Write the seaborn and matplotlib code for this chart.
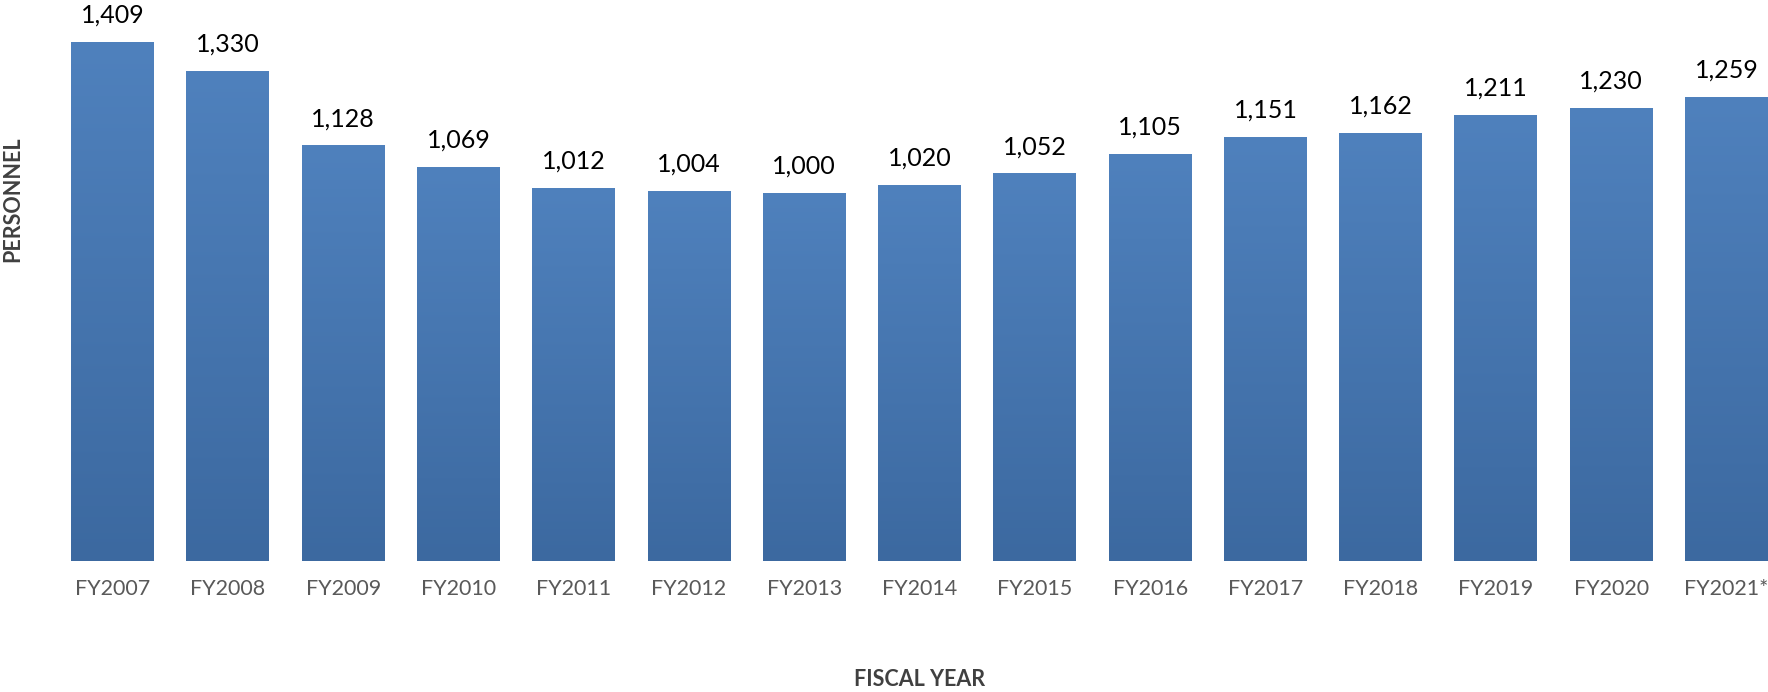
import matplotlib
matplotlib.use("Agg")
import matplotlib.pyplot as plt
import seaborn as sns
import numpy as np
import pandas as pd
from matplotlib.colors import LinearSegmentedColormap

years = ["FY2007", "FY2008", "FY2009", "FY2010", "FY2011", "FY2012", "FY2013",
         "FY2014", "FY2015", "FY2016", "FY2017", "FY2018", "FY2019", "FY2020", "FY2021*"]
personnel = [1409, 1330, 1128, 1069, 1012, 1004, 1000, 1020, 1052, 1105,
             1151, 1162, 1211, 1230, 1259]

df = pd.DataFrame({"year": years, "personnel": personnel})

sns.set_theme(style="white")
plt.rcParams['font.family'] = ['Lato', 'DejaVu Sans']

fig = plt.figure(figsize=(17.68, 6.92), dpi=100)
ax = fig.add_axes([55 / 1768, (692 - 561) / 692, 1 - 55 / 1768, 561 / 692])

sns.barplot(data=df, x="year", y="personnel", color="#4A7AB5", width=0.72,
            saturation=1, ax=ax)

# vertical gradient inside each bar
cmap = LinearSegmentedColormap.from_list("g", ["#3C69A0", "#4F81BD"])
grad = np.linspace(0, 1, 256).reshape(-1, 1)
for p in ax.patches:
    x0, y0 = p.get_x(), p.get_y()
    w, h = p.get_width(), p.get_height()
    im = ax.imshow(grad, cmap=cmap, aspect="auto", origin="lower",
                   extent=[x0, x0 + w, y0, y0 + h], zorder=p.get_zorder() + 0.1)
    im.set_clip_path(p)

ax.bar_label(ax.containers[0], labels=[f"{v:,}" for v in personnel],
             padding=11, fontsize=18, color="#000000")

ax.set_xlim(-0.5, 14.36)
ax.set_ylim(0, 1523)
ax.set_yticks([])
ax.set_xlabel("")
ax.set_ylabel("")
for s in ax.spines.values():
    s.set_visible(False)
ax.tick_params(axis="x", length=0, pad=13, labelsize=15.5, labelcolor="#595959")

fig.text(920 / 1768, 1 - 680 / 692, "FISCAL YEAR", ha="center", va="center",
         fontsize=15.5, fontweight="bold", color="#404040")
fig.text(13 / 1768, 1 - 199 / 692, "PERSONNEL", ha="center", va="center",
         rotation=90, fontsize=15.5, fontweight="bold", color="#404040")

fig.savefig("out.png", dpi=100)
